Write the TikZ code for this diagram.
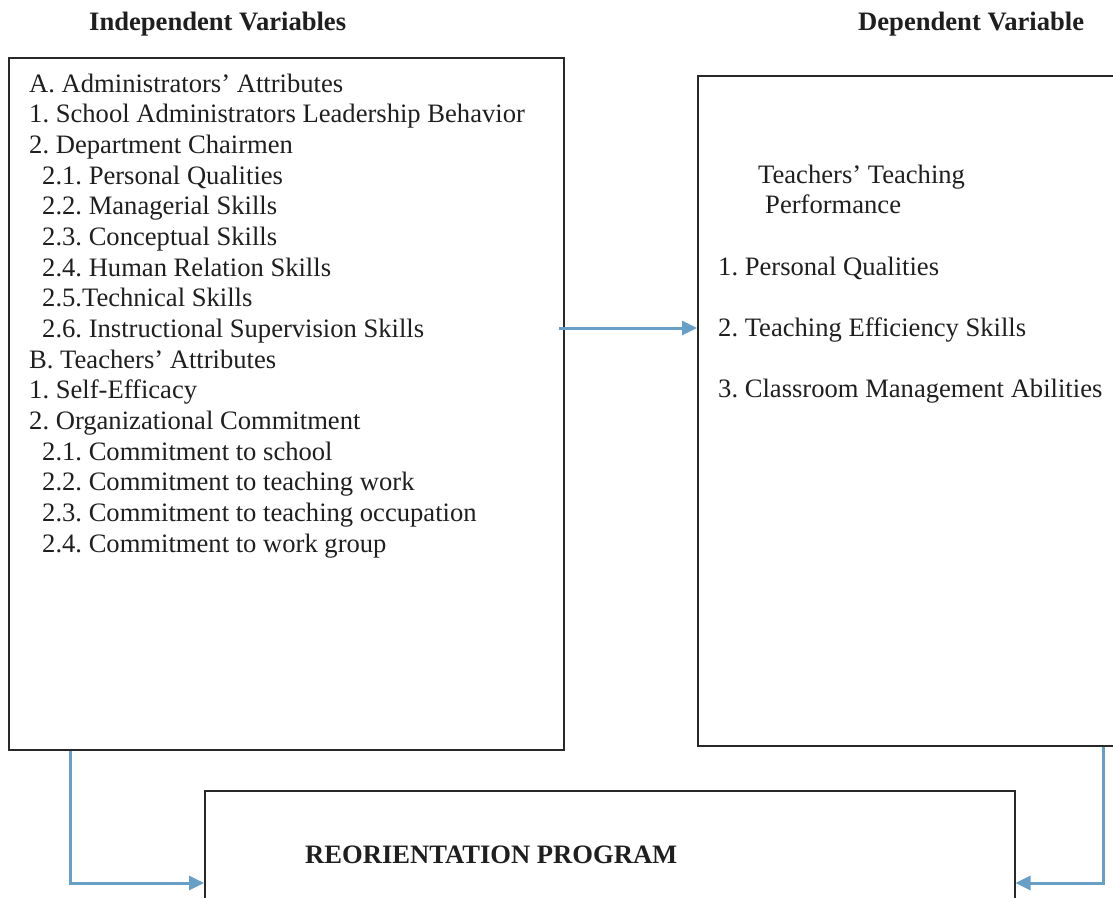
\documentclass[tikz,border=0pt]{standalone}
\usepackage{fontspec}
\setmainfont{Liberation Serif}
\usetikzlibrary{arrows.meta}
\definecolor{linkblue}{RGB}{104,159,199}
\definecolor{boxline}{RGB}{40,40,40}
\frenchspacing
\begin{document}
\begin{tikzpicture}[x=1pt,y=-1pt,
  box/.style={draw=boxline,line width=1.5pt,anchor=north west,inner sep=0pt},
  txt/.style={anchor=base west,inner sep=0pt,text=black!88,font=\fontsize{26.6}{30}\selectfont},
  hd/.style={anchor=base west,inner sep=0pt,text=black!88,font=\fontsize{26.6}{30}\selectfont\bfseries},
  link/.style={draw=linkblue,line width=3pt,-{Triangle[length=15pt,width=14pt]}}]
\useasboundingbox (0,0) rectangle (1113,897);
\clip (0,0) rectangle (1113,897);
\fill[white] (0,0) rectangle (1113,897);

% headers
\node[hd] (h1) at (89,30) {Independent Variables};
\node[hd] (h2) at (858,30) {Dependent Variable};

% boxes
\node[box,minimum width=555pt,minimum height=692pt] (L) at (8,57) {};
\node[box,minimum width=440pt,minimum height=670pt] (R) at (697,75) {};
\node[box,minimum width=810pt,minimum height=150pt] (B) at (204,790) {};

% left box text
\node[txt] (l1)  at (29,92)    {A. Administrators’ Attributes};
\node[txt] (l2)  at (29,122.6) {1. School Administrators Leadership Behavior};
\node[txt] (l3)  at (29,153.3) {2. Department Chairmen};
\node[txt] (l4)  at (42,184)   {2.1. Personal Qualities};
\node[txt] (l5)  at (42,214.6) {2.2. Managerial Skills};
\node[txt] (l6)  at (42,245.3) {2.3. Conceptual Skills};
\node[txt] (l7)  at (42,276)   {2.4. Human Relation Skills};
\node[txt] (l8)  at (42,306.6) {2.5.Technical Skills};
\node[txt] (l9)  at (42,337.3) {2.6. Instructional Supervision Skills};
\node[txt] (l10) at (29,368)   {B. Teachers’ Attributes};
\node[txt] (l11) at (29,398.6) {1. Self-Efficacy};
\node[txt] (l12) at (29,429.3) {2. Organizational Commitment};
\node[txt] (l13) at (42,460)   {2.1. Commitment to school};
\node[txt] (l14) at (42,490.6) {2.2. Commitment to teaching work};
\node[txt] (l15) at (42,521.3) {2.3. Commitment to teaching occupation};
\node[txt] (l16) at (42,552)   {2.4. Commitment to work group};

% right box text
\node[txt] (r1) at (758,183) {Teachers’ Teaching};
\node[txt] (r2) at (765,213) {Performance};
\node[txt] (r3) at (718,275) {1. Personal Qualities};
\node[txt] (r4) at (718,336) {2. Teaching Efficiency Skills};
\node[txt] (r5) at (718,397) {3. Classroom Management Abilities};

% bottom box text
\node[hd] (b1) at (305,863) {REORIENTATION PROGRAM};

% connectors
\coordinate (midrow) at (559,328);
\coordinate (rowB) at (0,883);
\coordinate (colL) at (70,0);
\coordinate (colR) at (1103,0);
\draw[link] (midrow) -- (midrow -| R.west);
\draw[link] (colL |- L.south) |- (B.west |- rowB);
\draw[link] (colR |- R.south) |- (B.east |- rowB);
\end{tikzpicture}
\end{document}
